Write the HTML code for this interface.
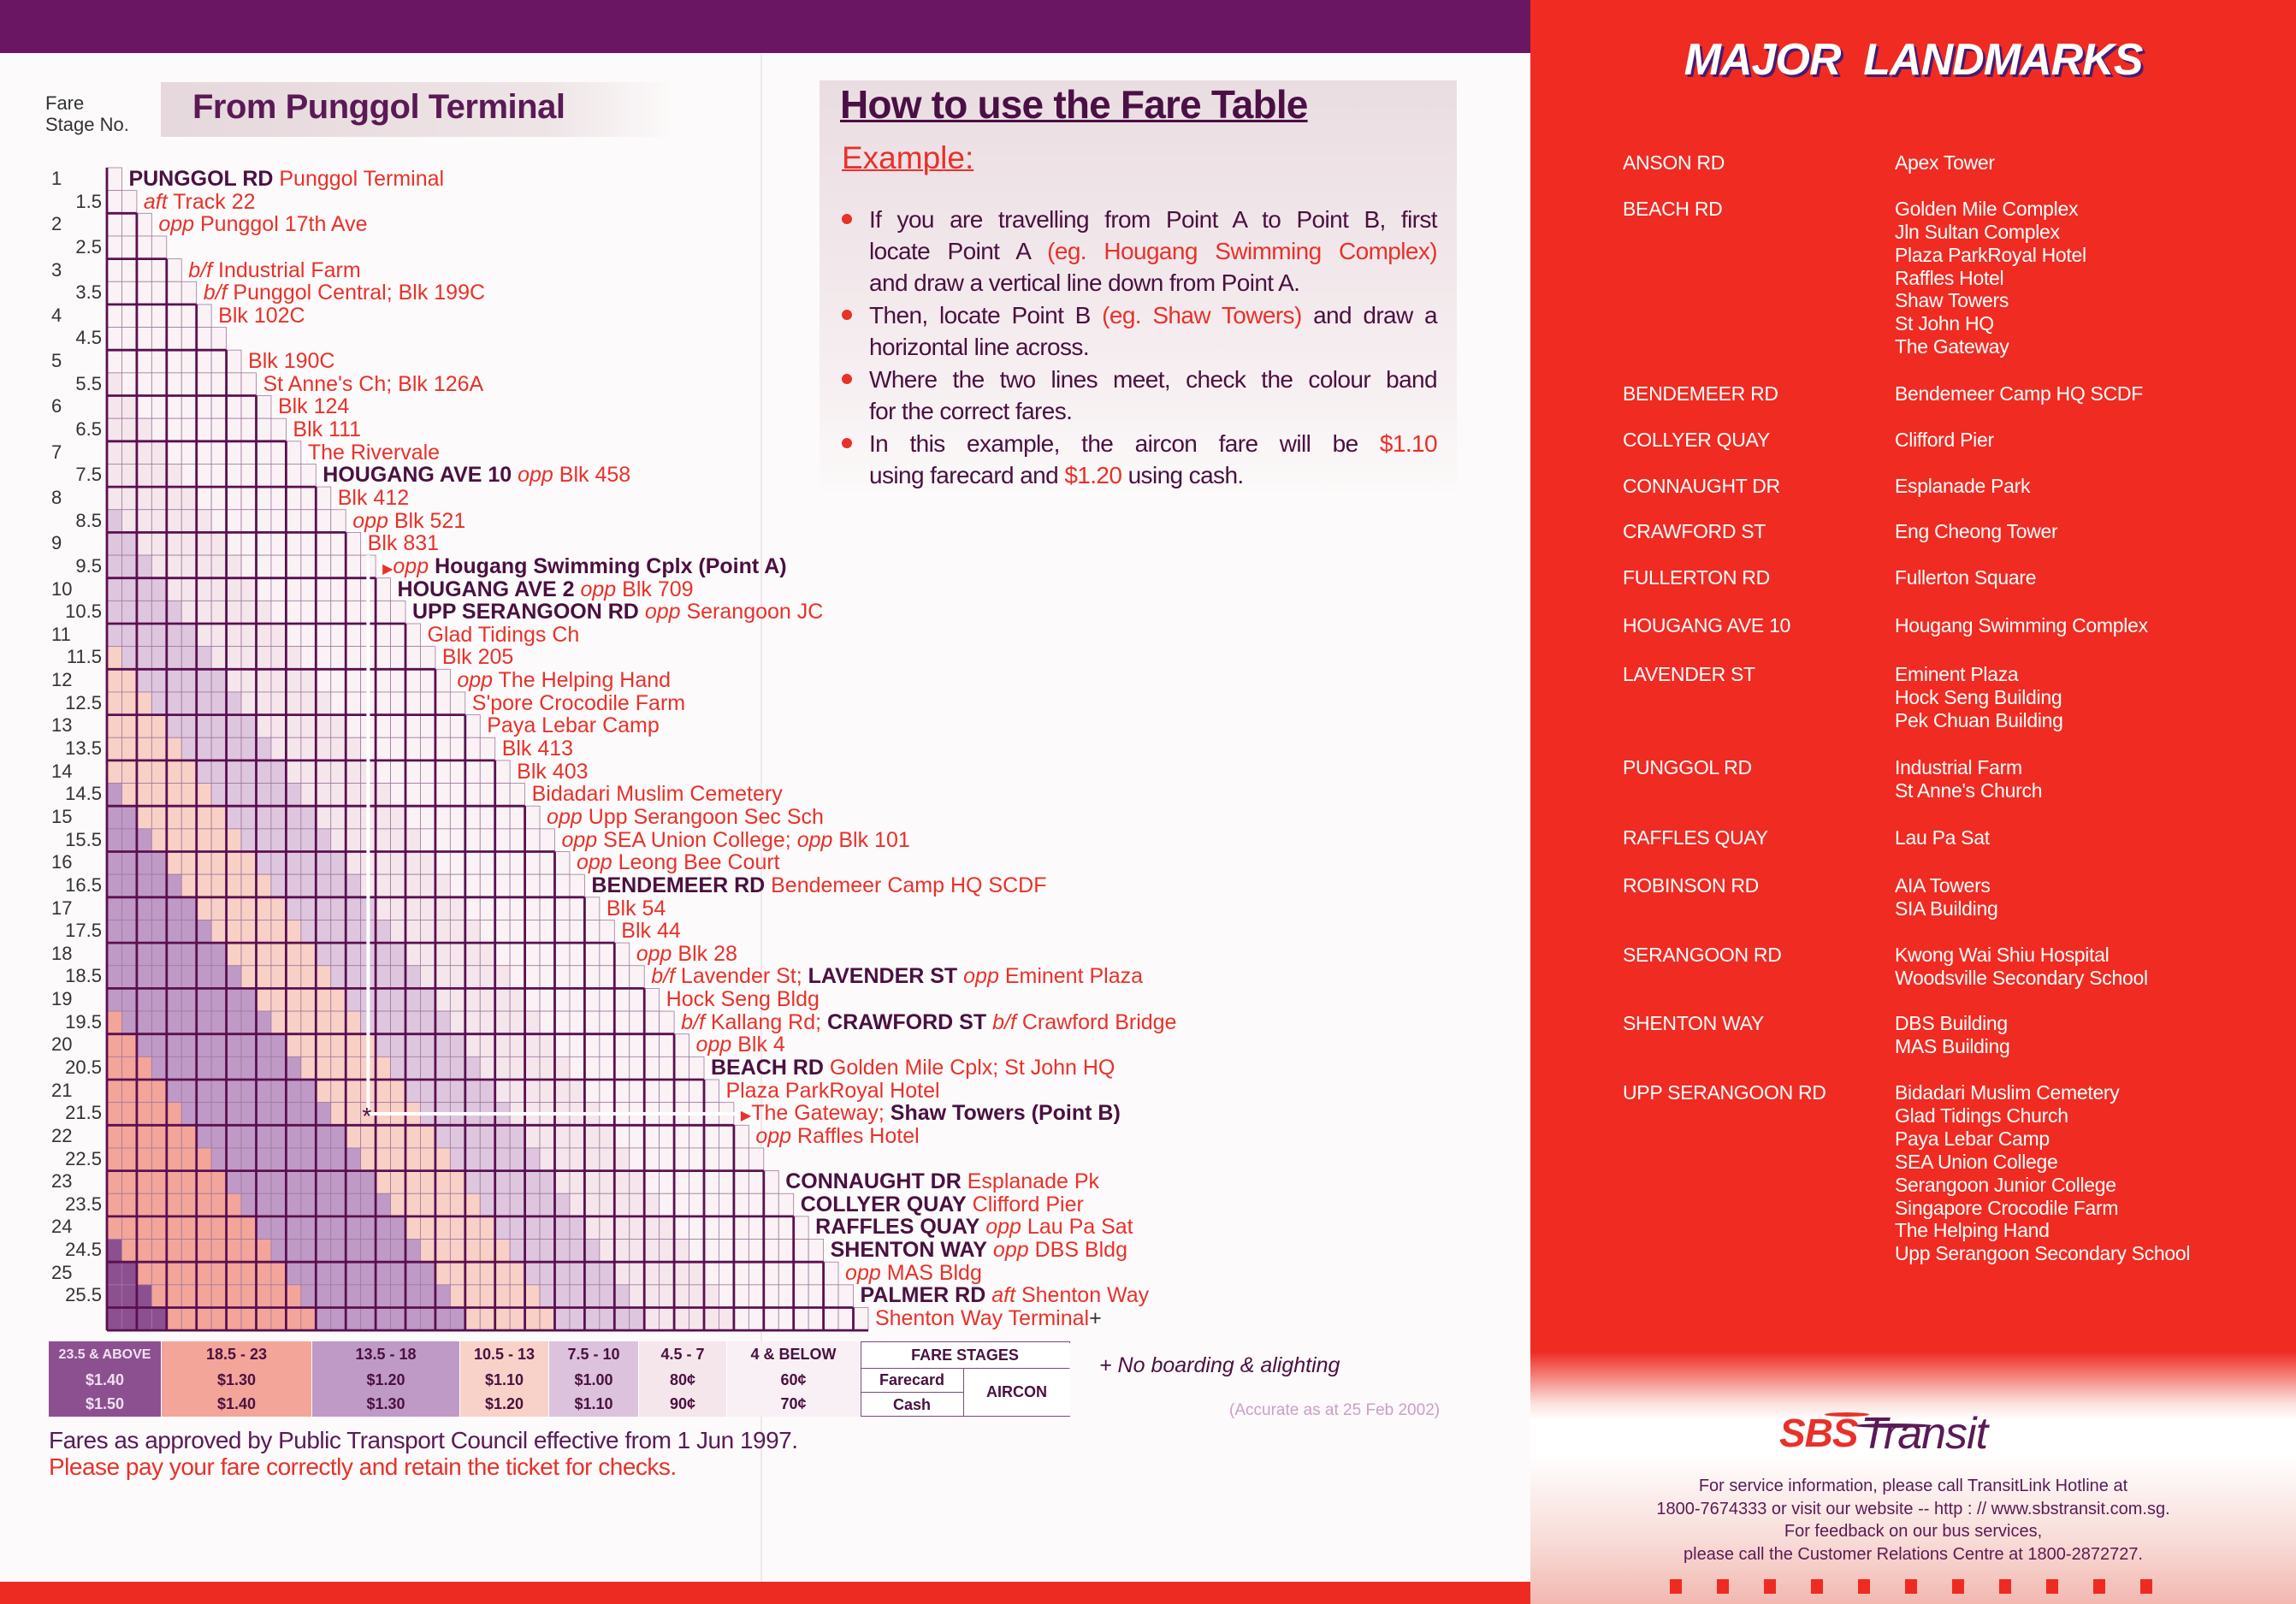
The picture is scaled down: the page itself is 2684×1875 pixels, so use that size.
<!DOCTYPE html>
<html><head><meta charset="utf-8">
<style>
*{margin:0;padding:0;box-sizing:border-box}
body{width:2684px;height:1875px;position:relative;overflow:hidden;background:#fcfafa;font-family:"Liberation Sans",sans-serif}
.abs{position:absolute}
#topbar{left:0;top:0;width:1789px;height:62px;background:#6b1662}
#botbar{left:0;top:1849px;width:1789px;height:26px;background:#ee2b22}
#fold{left:889px;top:62px;width:2px;height:1787px;background:#efe8ea}
#right{left:1789px;top:0;width:895px;height:1875px;background:linear-gradient(180deg,#ef2b22 0,#ef2b22 1580px,#fbe0dc 1640px,#fff 1660px,#fff 1700px,#f8dcd8 1800px,#f2b8b0 1875px)}
.stages{left:0;top:196px;width:125px;font-size:22px;color:#333}
.stages div{height:26.65px;line-height:26.65px}
.stages .i{padding-left:60px}
.stages .h{width:119px;text-align:right}
.names{left:125px;top:196px;font-size:25px;color:#e8312a;white-space:nowrap}
.names div{height:26.65px;line-height:26.65px}
.names b{color:#4a1040}
.names i{font-style:italic}
.arr{color:#e8312a;font-size:16px}
.lgd{left:57px;top:1568px;width:1194px;height:88px}
.lgd div{position:absolute;display:flex;align-items:center;justify-content:center;font-weight:bold;font-size:18px;color:#4a1040;border-right:1px solid #fff}
.how{left:958px;top:94px;width:745px;height:488px;background:linear-gradient(180deg,#eadde2,#f6eef0 70%,#fcfafa)}
.bl{left:1016px;width:664px;font-size:28px;color:#4a1040;text-align:justify;text-align-last:justify;line-height:37.5px;letter-spacing:-0.6px;white-space:nowrap}
.dot{left:984px;width:12px;height:12px;border-radius:50%;background:#e8312a}
.lm{color:#fff;font-size:23px;letter-spacing:-0.3px;line-height:26.9px;white-space:nowrap}
.sq{top:1846px;width:14px;height:17px;background:#ee2b22}
.ft{left:1789px;width:895px;text-align:center;font-size:20px;color:#5a1a55}
</style></head><body>
<div class="abs" id="topbar"></div>
<div class="abs" id="fold"></div>
<div class="abs" id="botbar"></div>

<div class="abs" style="left:53px;top:108px;font-size:22px;color:#333;line-height:25px">Fare<br>Stage No.</div>
<div class="abs" style="left:188px;top:96px;width:600px;height:64px;background:linear-gradient(90deg,#e6d8dc,#eee4e6 75%,rgba(252,250,250,0))"></div>
<div class="abs" style="left:225px;top:103px;font-size:40px;font-weight:bold;color:#5a1a55;letter-spacing:-0.5px">From Punggol Terminal</div>

<svg class="abs" id="grid" style="left:0;top:0" width="1100" height="1600"></svg>

<div class="abs stages">
<div class="i">1</div><div class="h">1.5</div><div class="i">2</div><div class="h">2.5</div><div class="i">3</div><div class="h">3.5</div><div class="i">4</div><div class="h">4.5</div><div class="i">5</div><div class="h">5.5</div><div class="i">6</div><div class="h">6.5</div><div class="i">7</div><div class="h">7.5</div><div class="i">8</div><div class="h">8.5</div><div class="i">9</div><div class="h">9.5</div><div class="i">10</div><div class="h">10.5</div><div class="i">11</div><div class="h">11.5</div><div class="i">12</div><div class="h">12.5</div><div class="i">13</div><div class="h">13.5</div><div class="i">14</div><div class="h">14.5</div><div class="i">15</div><div class="h">15.5</div><div class="i">16</div><div class="h">16.5</div><div class="i">17</div><div class="h">17.5</div><div class="i">18</div><div class="h">18.5</div><div class="i">19</div><div class="h">19.5</div><div class="i">20</div><div class="h">20.5</div><div class="i">21</div><div class="h">21.5</div><div class="i">22</div><div class="h">22.5</div><div class="i">23</div><div class="h">23.5</div><div class="i">24</div><div class="h">24.5</div><div class="i">25</div><div class="h">25.5</div>
</div>

<div class="abs names" id="names">
<div><b>PUNGGOL RD</b> Punggol Terminal</div>
<div><i>aft</i> Track 22</div>
<div><i>opp</i> Punggol 17th Ave</div>
<div>&nbsp;</div>
<div><i>b/f</i> Industrial Farm</div>
<div><i>b/f</i> Punggol Central; Blk 199C</div>
<div>Blk 102C</div>
<div>&nbsp;</div>
<div>Blk 190C</div>
<div>St Anne's Ch; Blk 126A</div>
<div>Blk 124</div>
<div>Blk 111</div>
<div>The Rivervale</div>
<div><b>HOUGANG AVE 10</b> <i>opp</i> Blk 458</div>
<div>Blk 412</div>
<div><i>opp</i> Blk 521</div>
<div>Blk 831</div>
<div><span class="arr">&#9654;</span><i>opp</i> <b>Hougang Swimming Cplx (Point A)</b></div>
<div><b>HOUGANG AVE 2</b> <i>opp</i> Blk 709</div>
<div><b>UPP SERANGOON RD</b> <i>opp</i> Serangoon JC</div>
<div>Glad Tidings Ch</div>
<div>Blk 205</div>
<div><i>opp</i> The Helping Hand</div>
<div>S'pore Crocodile Farm</div>
<div>Paya Lebar Camp</div>
<div>Blk 413</div>
<div>Blk 403</div>
<div>Bidadari Muslim Cemetery</div>
<div><i>opp</i> Upp Serangoon Sec Sch</div>
<div><i>opp</i> SEA Union College; <i>opp</i> Blk 101</div>
<div><i>opp</i> Leong Bee Court</div>
<div><b>BENDEMEER RD</b> Bendemeer Camp HQ SCDF</div>
<div>Blk 54</div>
<div>Blk 44</div>
<div><i>opp</i> Blk 28</div>
<div><i>b/f</i> Lavender St; <b>LAVENDER ST</b> <i>opp</i> Eminent Plaza</div>
<div>Hock Seng Bldg</div>
<div><i>b/f</i> Kallang Rd; <b>CRAWFORD ST</b> <i>b/f</i> Crawford Bridge</div>
<div><i>opp</i> Blk 4</div>
<div><b>BEACH RD</b> Golden Mile Cplx; St John HQ</div>
<div>Plaza ParkRoyal Hotel</div>
<div><span class="arr">&#9654;</span>The Gateway; <b>Shaw Towers (Point B)</b></div>
<div><i>opp</i> Raffles Hotel</div>
<div>&nbsp;</div>
<div><b>CONNAUGHT DR</b> Esplanade Pk</div>
<div><b>COLLYER QUAY</b> Clifford Pier</div>
<div><b>RAFFLES QUAY</b> <i>opp</i> Lau Pa Sat</div>
<div><b>SHENTON WAY</b> <i>opp</i> DBS Bldg</div>
<div><i>opp</i> MAS Bldg</div>
<div><b>PALMER RD</b> <i>aft</i> Shenton Way</div>
<div>Shenton Way Terminal<span style="color:#333">+</span></div>
</div>

<div class="abs lgd">
<div style="left:0;top:0;width:132px;height:31px;background:#8c5090;color:#f0e0f0;font-size:16px">23.5 &amp; ABOVE</div>
<div style="left:0;top:31px;width:132px;height:28px;background:#8c5090;color:#f0e0f0">$1.40</div>
<div style="left:0;top:59px;width:132px;height:29px;background:#8c5090;color:#f0e0f0">$1.50</div>
<div style="left:132px;top:0;width:176px;height:88px;background:#f3a59a"></div>
<div style="left:132px;top:0;width:176px;height:31px">18.5 - 23</div>
<div style="left:132px;top:31px;width:176px;height:28px">$1.30</div>
<div style="left:132px;top:59px;width:176px;height:29px">$1.40</div>
<div style="left:308px;top:0;width:173px;height:88px;background:#c09ac6"></div>
<div style="left:308px;top:0;width:173px;height:31px">13.5 - 18</div>
<div style="left:308px;top:31px;width:173px;height:28px">$1.20</div>
<div style="left:308px;top:59px;width:173px;height:29px">$1.30</div>
<div style="left:481px;top:0;width:104px;height:88px;background:#f8d2c8"></div>
<div style="left:481px;top:0;width:104px;height:31px">10.5 - 13</div>
<div style="left:481px;top:31px;width:104px;height:28px">$1.10</div>
<div style="left:481px;top:59px;width:104px;height:29px">$1.20</div>
<div style="left:585px;top:0;width:105px;height:88px;background:#dcc2dc"></div>
<div style="left:585px;top:0;width:105px;height:31px">7.5 - 10</div>
<div style="left:585px;top:31px;width:105px;height:28px">$1.00</div>
<div style="left:585px;top:59px;width:105px;height:29px">$1.10</div>
<div style="left:690px;top:0;width:103px;height:88px;background:#f5e6ec"></div>
<div style="left:690px;top:0;width:103px;height:31px">4.5 - 7</div>
<div style="left:690px;top:31px;width:103px;height:28px">80¢</div>
<div style="left:690px;top:59px;width:103px;height:29px">90¢</div>
<div style="left:793px;top:0;width:156px;height:88px;background:#f8f0f4"></div>
<div style="left:793px;top:0;width:156px;height:31px">4 &amp; BELOW</div>
<div style="left:793px;top:31px;width:156px;height:28px">60¢</div>
<div style="left:793px;top:59px;width:156px;height:29px">70¢</div>
<div style="left:949px;top:0;width:245px;height:88px;background:#fff;border:1.5px solid #7a4a78"></div>
<div style="left:949px;top:2px;width:245px;height:29px">FARE STAGES</div>
<div style="left:949px;top:31px;width:121px;height:28px;border-top:1.5px solid #7a4a78;border-right:1.5px solid #7a4a78">Farecard</div>
<div style="left:949px;top:59px;width:121px;height:29px;border-top:1.5px solid #7a4a78;border-right:1.5px solid #7a4a78">Cash</div>
<div style="left:1070px;top:31px;width:124px;height:56px;border-top:1.5px solid #7a4a78">AIRCON</div>
</div>
<div class="abs" style="left:1285px;top:1582px;font-size:25px;font-style:italic;color:#4a1040">+ No boarding &amp; alighting</div>
<div class="abs" style="left:1437px;top:1638px;font-size:19px;color:#c8a0c8">(Accurate as at 25 Feb 2002)</div>
<div class="abs" style="left:57px;top:1668px;font-size:28px;color:#5a1a55;letter-spacing:-0.5px">Fares as approved by Public Transport Council effective from 1 Jun 1997.</div>
<div class="abs" style="left:57px;top:1699px;font-size:28px;color:#e8312a;letter-spacing:-0.5px">Please pay your fare correctly and retain the ticket for checks.</div>

<div class="abs how"></div>
<div class="abs" style="left:982px;top:95px;font-size:46px;font-weight:bold;color:#4a1045;text-decoration:underline;text-decoration-thickness:3px;letter-spacing:-0.8px">How to use the Fare Table</div>
<div class="abs" style="left:984px;top:164px;font-size:37px;color:#e8312a;text-decoration:underline;text-decoration-thickness:2px">Example:</div>
<div class="abs dot" style="top:250px"></div>
<div class="abs dot" style="top:362px"></div>
<div class="abs dot" style="top:437px"></div>
<div class="abs dot" style="top:512px"></div>
<div class="abs bl" style="top:238px">If you are travelling from Point A to Point B, first</div>
<div class="abs bl" style="top:275px">locate Point A <span style="color:#e8312a">(eg. Hougang Swimming Complex)</span></div>
<div class="abs bl" style="top:312px;text-align-last:left">and draw a vertical line down from Point A.</div>
<div class="abs bl" style="top:350px">Then, locate Point B <span style="color:#e8312a">(eg. Shaw Towers)</span> and draw a</div>
<div class="abs bl" style="top:387px;text-align-last:left">horizontal line across.</div>
<div class="abs bl" style="top:425px">Where the two lines meet, check the colour band</div>
<div class="abs bl" style="top:462px;text-align-last:left">for the correct fares.</div>
<div class="abs bl" style="top:500px">In this example, the aircon fare will be <span style="color:#e8312a">$1.10</span></div>
<div class="abs bl" style="top:537px;text-align-last:left">using farecard and <span style="color:#e8312a">$1.20</span> using cash.</div>

<div class="abs" id="right"></div>
<div class="abs" style="left:1789px;top:40px;width:895px;text-align:center;font-size:52px;font-weight:bold;font-style:italic;color:#fff;text-shadow:3px 3px 0 #4a1a70;letter-spacing:-1px">MAJOR&nbsp; LANDMARKS</div>

<div class="abs lm" style="left:1897px;top:177px">ANSON RD<br><br>BEACH RD</div>
<div class="abs lm" style="left:2215px;top:177px">Apex Tower<br><br>Golden Mile Complex<br>Jln Sultan Complex<br>Plaza ParkRoyal Hotel<br>Raffles Hotel<br>Shaw Towers<br>St John HQ<br>The Gateway</div>
<div class="abs lm" style="left:1897px;top:434px;line-height:53.8px">BENDEMEER RD<br>COLLYER QUAY<br>CONNAUGHT DR<br>CRAWFORD ST<br>FULLERTON RD</div>
<div class="abs lm" style="left:2215px;top:434px;line-height:53.8px">Bendemeer Camp HQ SCDF<br>Clifford Pier<br>Esplanade Park<br>Eng Cheong Tower<br>Fullerton Square</div>
<div class="abs lm" style="left:1897px;top:718px">HOUGANG AVE 10</div>
<div class="abs lm" style="left:2215px;top:718px">Hougang Swimming Complex</div>
<div class="abs lm" style="left:1897px;top:775px">LAVENDER ST</div>
<div class="abs lm" style="left:2215px;top:775px">Eminent Plaza<br>Hock Seng Building<br>Pek Chuan Building</div>
<div class="abs lm" style="left:1897px;top:884px">PUNGGOL RD</div>
<div class="abs lm" style="left:2215px;top:884px">Industrial Farm<br>St Anne's Church</div>
<div class="abs lm" style="left:1897px;top:966px">RAFFLES QUAY</div>
<div class="abs lm" style="left:2215px;top:966px">Lau Pa Sat</div>
<div class="abs lm" style="left:1897px;top:1022px">ROBINSON RD</div>
<div class="abs lm" style="left:2215px;top:1022px">AIA Towers<br>SIA Building</div>
<div class="abs lm" style="left:1897px;top:1103px">SERANGOON RD</div>
<div class="abs lm" style="left:2215px;top:1103px">Kwong Wai Shiu Hospital<br>Woodsville Secondary School</div>
<div class="abs lm" style="left:1897px;top:1183px">SHENTON WAY</div>
<div class="abs lm" style="left:2215px;top:1183px">DBS Building<br>MAS Building</div>
<div class="abs lm" style="left:1897px;top:1264px">UPP SERANGOON RD</div>
<div class="abs lm" style="left:2215px;top:1264px">Bidadari Muslim Cemetery<br>Glad Tidings Church<br>Paya Lebar Camp<br>SEA Union College<br>Serangoon Junior College<br>Singapore Crocodile Farm<br>The Helping Hand<br>Upp Serangoon Secondary School</div>

<div class="abs" style="left:2133px;top:1651px;width:52px;height:5px;border-radius:50%;background:#e8312a"></div>
<div class="abs" style="left:2168px;top:1664px;width:90px;height:5px;border-radius:50%;background:#5a1a55"></div>
<div class="abs" style="left:2080px;top:1648px;font-size:46px;font-weight:bold;font-style:italic;color:#e8312a;letter-spacing:-1px">SBS</div>
<div class="abs" style="left:2175px;top:1646px;font-size:52px;font-style:italic;color:#5a1a55;letter-spacing:-1px">Transit</div>
<div class="abs ft" style="top:1726px">For service information, please call TransitLink Hotline at</div>
<div class="abs ft" style="top:1753px">1800-7674333 or visit our website -- http : // www.sbstransit.com.sg.</div>
<div class="abs ft" style="top:1779px">For feedback on our bus services,</div>
<div class="abs ft" style="top:1806px">please call the Customer Relations Centre at 1800-2872727.</div>
<div class="abs sq" style="left:1952px"></div><div class="abs sq" style="left:2007px"></div><div class="abs sq" style="left:2062px"></div><div class="abs sq" style="left:2117px"></div><div class="abs sq" style="left:2172px"></div><div class="abs sq" style="left:2227px"></div><div class="abs sq" style="left:2282px"></div><div class="abs sq" style="left:2337px"></div><div class="abs sq" style="left:2392px"></div><div class="abs sq" style="left:2447px"></div><div class="abs sq" style="left:2502px"></div>

<script>
(function(){
var x0=125,y0=196,w=17.45,h=26.65,N=51;
var g=document.getElementById('grid'),s='';
function col(d){if(d<=8)return'#faf2f5';if(d<=14)return'#f5e6ec';if(d<=20)return'#dfc6df';if(d<=26)return'#f8d0c6';if(d<=36)return'#c09ac6';if(d<=46)return'#f3a59a';return'#8c5090';}
for(var r=1;r<=N;r++){for(var c=1;c<=r;c++){var x=x0+(c-1)*w,y=y0+(r-1)*h;
s+='<rect x="'+x.toFixed(2)+'" y="'+y.toFixed(2)+'" width="'+w+'" height="'+h+'" fill="'+col(r-c)+'" stroke="#a07a9e" stroke-width="0.8"/>';}}
for(var r=3;r<=N;r+=2){var y=y0+(r-1)*h;s+='<line x1="'+x0+'" y1="'+y+'" x2="'+(x0+(r-1)*w)+'" y2="'+y+'" stroke="#5a1050" stroke-width="2.8"/>';}
for(var m=1;2*m<N;m++){var x=x0+2*m*w;s+='<line x1="'+x+'" y1="'+(y0+2*m*h)+'" x2="'+x+'" y2="'+(y0+N*h)+'" stroke="#5a1050" stroke-width="2.8"/>';}
s+='<line x1="'+x0+'" y1="'+y0+'" x2="'+x0+'" y2="'+(y0+N*h)+'" stroke="#5a1050" stroke-width="2.8"/>';
s+='<line x1="'+x0+'" y1="'+(y0+N*h)+'" x2="'+(x0+N*w)+'" y2="'+(y0+N*h)+'" stroke="#5a1050" stroke-width="2.8"/>';
var ax=x0+17.5*w,ay=y0+17*h,by=y0+41.5*h;
s+='<line x1="'+ax+'" y1="'+ay+'" x2="'+ax+'" y2="'+by+'" stroke="#fff" stroke-width="4"/>';
s+='<line x1="'+ax+'" y1="'+by+'" x2="'+(x0+42*w+4)+'" y2="'+by+'" stroke="#fff" stroke-width="4"/>';
s+='<text x="'+(ax-7)+'" y="'+(by+12)+'" font-size="28" fill="#4a1040" font-family="Liberation Sans">*</text>';
g.innerHTML=s;
var d=document.getElementById('names').children;
for(var i=0;i<d.length;i++){d[i].style.marginLeft=((i+1)*w+8)+'px';}
})();
</script>
</body></html>
